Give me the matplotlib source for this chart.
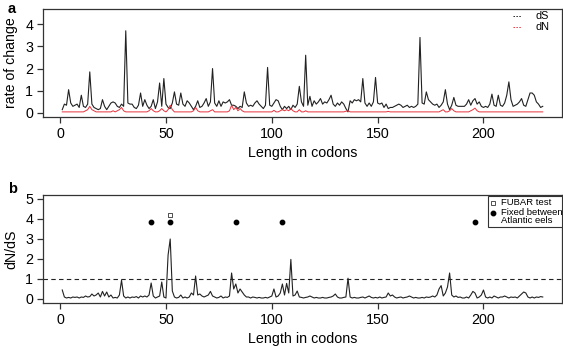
import matplotlib
matplotlib.use("Agg")
import matplotlib.pyplot as plt
from matplotlib.lines import Line2D
from matplotlib.patches import Rectangle
import numpy as np

plt.rcParams['font.family'] = ['Liberation Sans', 'DejaVu Sans']

codons = list(range(1, 229))

dS = [0.15, 0.4, 0.35, 1.05, 0.45, 0.3, 0.35, 0.4, 0.25, 0.8,
      0.3, 0.25, 0.4, 1.85, 0.4, 0.25, 0.2, 0.15, 0.2, 0.6,
      0.3, 0.15, 0.3, 0.45, 0.5, 0.45, 0.3, 0.25, 0.4, 0.3,
      3.7, 0.45, 0.4, 0.4, 0.25, 0.2, 0.35, 0.9, 0.3, 0.6,
      0.35, 0.2, 0.3, 0.6, 0.2, 0.5, 1.35, 0.3, 1.55, 0.4,
      0.25, 0.2, 0.45, 0.95, 0.4, 0.35, 0.9, 0.4, 0.3, 0.55,
      0.45, 0.3, 0.15, 0.3, 0.55, 0.25, 0.3, 0.45, 0.65, 0.3,
      0.5, 2.0, 0.45, 0.3, 0.55, 0.3, 0.5, 0.45, 0.5, 0.6,
      0.35, 0.35, 0.3, 0.2, 0.3, 0.25, 0.95, 0.45, 0.3, 0.35,
      0.3, 0.45, 0.55, 0.4, 0.3, 0.2, 0.35, 2.05, 0.35, 0.3,
      0.45, 0.6, 0.55, 0.3, 0.15, 0.3, 0.2, 0.3, 0.15, 0.35,
      0.25, 0.4, 1.2, 0.5, 0.3, 2.6, 0.35, 0.75, 0.3, 0.55,
      0.4, 0.5, 0.65, 0.4, 0.5, 0.45, 0.6, 0.8, 0.4, 0.3,
      0.45, 0.35, 0.5, 0.4, 0.2, 0.05, 0.55, 0.45, 0.6, 0.55,
      0.6, 0.5, 1.55, 0.45, 0.3, 0.45, 0.3, 0.5, 1.6, 0.45,
      0.4, 0.45, 0.25, 0.4, 0.2, 0.25, 0.25, 0.3, 0.35, 0.4,
      0.35, 0.25, 0.3, 0.35, 0.25, 0.3, 0.25, 0.3, 0.4, 3.4,
      0.45, 0.4, 0.95, 0.6, 0.5, 0.4, 0.35, 0.4, 0.25, 0.35,
      0.5, 1.05, 0.4, 0.15, 0.35, 0.7, 0.35, 0.3, 0.3, 0.3,
      0.3, 0.4, 0.6, 0.35, 0.55, 0.65, 0.4, 0.5, 0.3, 0.25,
      0.3, 0.25, 0.4, 0.85, 0.35, 0.3, 0.8, 0.35, 0.3, 0.45,
      0.8, 1.4, 0.6, 0.3, 0.35, 0.4, 0.5, 0.65, 0.35, 0.3,
      0.6, 0.9, 0.9, 0.8, 0.5, 0.4, 0.25, 0.3]

dN = [0.05, 0.05, 0.05, 0.05, 0.05, 0.05, 0.05, 0.05, 0.05, 0.05,
      0.05, 0.1, 0.15, 0.3, 0.15, 0.1, 0.05, 0.05, 0.05, 0.05,
      0.05, 0.05, 0.05, 0.05, 0.1, 0.05, 0.1, 0.15, 0.25, 0.1,
      0.05, 0.05, 0.05, 0.05, 0.05, 0.05, 0.05, 0.05, 0.05, 0.05,
      0.05, 0.1, 0.2, 0.1, 0.05, 0.05, 0.1, 0.2, 0.1, 0.05,
      0.15, 0.35, 0.15, 0.05, 0.05, 0.05, 0.05, 0.05, 0.05, 0.05,
      0.05, 0.05, 0.1, 0.25, 0.1, 0.05, 0.05, 0.05, 0.05, 0.05,
      0.1, 0.15, 0.05, 0.05, 0.05, 0.05, 0.05, 0.05, 0.05, 0.1,
      0.35, 0.15, 0.25, 0.1, 0.2, 0.1, 0.05, 0.05, 0.05, 0.05,
      0.05, 0.05, 0.05, 0.05, 0.05, 0.05, 0.05, 0.05, 0.05, 0.05,
      0.12, 0.05, 0.05, 0.1, 0.15, 0.1, 0.15, 0.1, 0.2, 0.1,
      0.05, 0.05, 0.15, 0.05, 0.05, 0.1, 0.05, 0.05, 0.05, 0.05,
      0.05, 0.05, 0.05, 0.05, 0.05, 0.05, 0.05, 0.05, 0.05, 0.05,
      0.05, 0.05, 0.05, 0.05, 0.08, 0.1, 0.05, 0.05, 0.05, 0.05,
      0.05, 0.05, 0.05, 0.05, 0.05, 0.05, 0.05, 0.05, 0.05, 0.05,
      0.05, 0.05, 0.05, 0.05, 0.07, 0.05, 0.05, 0.05, 0.05, 0.05,
      0.05, 0.05, 0.05, 0.05, 0.05, 0.05, 0.05, 0.05, 0.05, 0.05,
      0.05, 0.05, 0.05, 0.05, 0.05, 0.05, 0.05, 0.05, 0.05, 0.1,
      0.15, 0.05, 0.05, 0.1, 0.2, 0.1, 0.05, 0.05, 0.05, 0.05,
      0.05, 0.05, 0.05, 0.1, 0.15, 0.22, 0.1, 0.05, 0.05, 0.05,
      0.05, 0.05, 0.05, 0.05, 0.05, 0.05, 0.05, 0.05, 0.05, 0.05,
      0.05, 0.05, 0.05, 0.05, 0.05, 0.05, 0.05, 0.05, 0.05, 0.05,
      0.05, 0.05, 0.05, 0.05, 0.05, 0.05, 0.05, 0.05]

dNdS = [0.45, 0.1, 0.05, 0.08, 0.05, 0.1, 0.08, 0.1, 0.05, 0.1,
        0.08, 0.15, 0.1, 0.12, 0.25, 0.15, 0.2, 0.3, 0.1, 0.38,
        0.15, 0.35, 0.1, 0.2, 0.05, 0.08, 0.05, 0.2, 0.94, 0.15,
        0.05, 0.1, 0.05, 0.1, 0.08, 0.12, 0.05, 0.15, 0.1, 0.15,
        0.1, 0.2, 0.8, 0.15, 0.05, 0.1, 0.15, 0.85, 0.1, 0.05,
        2.2, 3.0, 0.4, 0.1, 0.05, 0.08, 0.2, 0.05, 0.1, 0.05,
        0.1, 0.3, 0.2, 1.15, 0.2, 0.25, 0.15, 0.1, 0.15, 0.2,
        0.38, 0.15, 0.1, 0.05, 0.08, 0.15, 0.05, 0.1, 0.08, 0.15,
        1.3, 0.5, 0.75, 0.3, 0.5, 0.35, 0.2, 0.1, 0.1, 0.05,
        0.1, 0.08, 0.05, 0.08, 0.05, 0.05, 0.08, 0.05, 0.1, 0.15,
        0.5, 0.1, 0.15, 0.3, 0.75, 0.2, 0.78, 0.3, 1.98, 0.15,
        0.2, 0.4, 0.1, 0.08, 0.05, 0.08, 0.1, 0.15, 0.1, 0.05,
        0.08, 0.05, 0.05, 0.08, 0.05, 0.05, 0.08, 0.1, 0.15, 0.25,
        0.1, 0.05, 0.05, 0.08, 0.1, 1.04, 0.1, 0.05, 0.08, 0.05,
        0.05, 0.08, 0.1, 0.05, 0.1, 0.15, 0.08, 0.05, 0.08, 0.05,
        0.1, 0.05, 0.08, 0.1, 0.3, 0.15, 0.2, 0.1, 0.05, 0.08,
        0.1, 0.05, 0.08, 0.1, 0.15, 0.1, 0.05, 0.08, 0.05, 0.05,
        0.08, 0.05, 0.1, 0.08, 0.1, 0.15, 0.1, 0.2, 0.5, 0.67,
        0.15, 0.3, 0.6, 1.3, 0.2, 0.1, 0.15, 0.08, 0.1, 0.05,
        0.05, 0.1, 0.05, 0.2, 0.38, 0.3, 0.05, 0.1, 0.2, 0.45,
        0.1, 0.05, 0.1, 0.05, 0.15, 0.1, 0.05, 0.1, 0.1, 0.15,
        0.1, 0.05, 0.1, 0.08, 0.1, 0.05, 0.15, 0.25, 0.35, 0.3,
        0.1, 0.05, 0.1, 0.05, 0.1, 0.08, 0.12, 0.1]

fubar_codons = [52]
fubar_y = [4.2]
fixed_codons = [43, 52, 83, 105, 196]
fixed_y = [3.85, 3.85, 3.85, 3.85, 3.85]

xticks = [0, 50, 100, 150, 200]

W, H = 563, 347
fig = plt.figure(figsize=(W / 100, H / 100), dpi=100)

def px_axes(left, top, right, bottom):
    return fig.add_axes([left / W, 1 - bottom / H, (right - left) / W, (bottom - top) / H])

def fx(x):
    return x / W

def fy(y):
    return 1 - y / H

def style(ax):
    for s in ax.spines.values():
        s.set_linewidth(0.9)
        s.set_color('#333333')
    ax.tick_params(direction='out', length=4, width=0.9, labelsize=10.3, colors='#333333',
                   labelcolor='black')
    ax.tick_params(axis='x', pad=3)
    ax.tick_params(axis='y', pad=3)
    ax.set_xticks(xticks)
    ax.set_xlim(-8.1, 237.1)

# Panel a
ax1 = px_axes(43, 9, 562, 117)
ax1.plot(codons, dS, color='#222222', lw=0.8)
ax1.plot(codons, dN, color='#e8323c', lw=0.7)
ax1.set_ylim(-0.18, 4.68)
ax1.set_yticks([0, 1, 2, 3, 4])
style(ax1)
ax1.set_ylabel('rate of change', fontsize=10.2, labelpad=5)
ax1.set_xlabel('Length in codons', fontsize=10.3, labelpad=4)
fig.text(8 / W, 1 - 9 / H, 'a', fontsize=10.5, fontweight='bold', ha='left', va='center')

# legend a (manual)
for yy, col, lab in [(16, '#222222', 'dS'), (27, '#e8323c', 'dN')]:
    fig.add_artist(Line2D([fx(513), fx(521)], [fy(yy), fy(yy)], color=col, lw=0.7,
                          ls=(0, (1.5, 1.5)), transform=fig.transFigure))
    fig.text(fx(535), fy(yy), lab, fontsize=7.8, ha='left', va='center')

# Panel b
ax2 = px_axes(43, 195, 562, 303)
ax2.plot(codons, dNdS, color='#222222', lw=0.8)
ax2.axhline(1, color='#222222', lw=0.8, ls=(0, (4, 3)))
ax2.scatter(fixed_codons, fixed_y, s=10, color='black', zorder=3)
ax2.scatter(fubar_codons, fubar_y, s=10, marker='s', facecolor='white', edgecolor='#333333',
            linewidths=0.6, zorder=3)
ax2.set_ylim(-0.2, 5.2)
ax2.set_yticks([0, 1, 2, 3, 4, 5])
style(ax2)
ax2.set_ylabel('dN/dS', fontsize=10.2, labelpad=5)
ax2.set_xlabel('Length in codons', fontsize=10.3, labelpad=4)
fig.text(8 / W, 1 - 189 / H, 'b', fontsize=10.5, fontweight='bold', ha='left', va='center')

# legend b (manual)
fig.add_artist(Rectangle((fx(488), fy(227)), fx(562) - fx(488), fy(196) - fy(227),
                         transform=fig.transFigure, fill=True, facecolor='white',
                         edgecolor='#333333', lw=0.8, zorder=5))
fig.add_artist(Line2D([fx(493)], [fy(202.5)], marker='s', markersize=3.2, markerfacecolor='white',
                      markeredgecolor='#333333', markeredgewidth=0.6, ls='none',
                      transform=fig.transFigure, zorder=6))
fig.add_artist(Line2D([fx(493)], [fy(212.5)], marker='o', markersize=3.2, color='black',
                      ls='none', transform=fig.transFigure, zorder=6))
fig.text(fx(501), fy(202.5), 'FUBAR test', fontsize=6.8, ha='left', va='center', zorder=6)
fig.text(fx(501), fy(216.5), 'Fixed between\nAtlantic eels', fontsize=6.8, ha='left',
         va='center', linespacing=0.85, zorder=6)

fig.savefig('out.png', dpi=100)
